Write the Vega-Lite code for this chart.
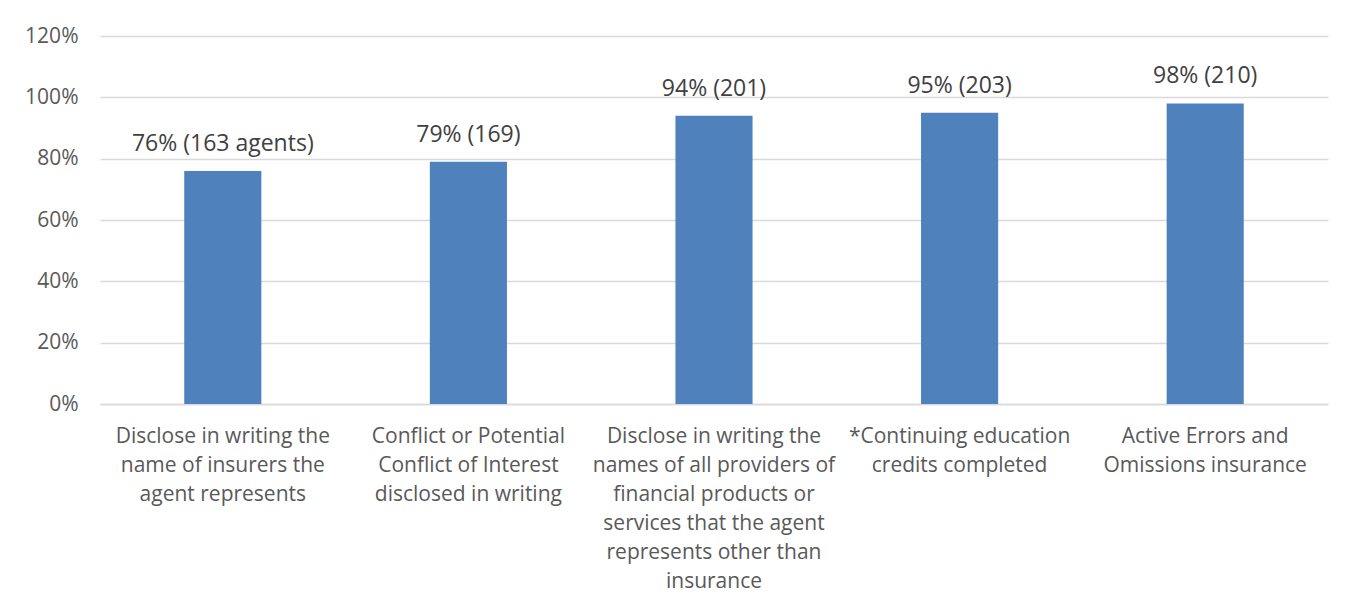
{
  "$schema": "https://vega.github.io/schema/vega-lite/v6.json",
  "width": 1228,
  "height": 368,
  "autosize": "none",
  "padding": {"left": 100, "top": 36, "right": 26, "bottom": 204},
  "background": "white",
  "config": {
    "view": {"stroke": null},
    "font": "Open Sans",
    "text": {"font": "Open Sans"}
  },
  "data": {
    "values": [
      {"category": "Disclose in writing the|name of insurers the|agent represents", "share": 0.76, "label": "76% (163 agents)"},
      {"category": "Conflict or Potential|Conflict of Interest|disclosed in writing", "share": 0.79, "label": "79% (169)"},
      {"category": "Disclose in writing the|names of all providers of|financial products or|services that the agent|represents other than|insurance", "share": 0.94, "label": "94% (201)"},
      {"category": "*Continuing education|credits completed", "share": 0.95, "label": "95% (203)"},
      {"category": "Active Errors and|Omissions insurance", "share": 0.98, "label": "98% (210)"}
    ]
  },
  "encoding": {
    "x": {
      "field": "category",
      "type": "nominal",
      "sort": null,
      "title": null,
      "scale": {"paddingInner": 0.686, "paddingOuter": 0.343},
      "axis": {
        "labelExpr": "split(datum.label, '|')",
        "labelAngle": 0,
        "labelFontSize": 21,
        "labelColor": "#595959",
        "labelLineHeight": 29,
        "labelPadding": 21,
        "labelLimit": 0,
        "ticks": false,
        "domainColor": "#d9d9d9",
        "domainWidth": 1.5
      }
    },
    "y": {
      "field": "share",
      "type": "quantitative",
      "title": null,
      "scale": {"domain": [0, 1.2]},
      "axis": {
        "values": [0, 0.2, 0.4, 0.6, 0.8, 1.0, 1.2],
        "format": ".0%",
        "labelFontSize": 21,
        "labelColor": "#595959",
        "labelPadding": 22,
        "ticks": false,
        "domain": false,
        "gridColor": "#d9d9d9",
        "gridWidth": 1.5
      }
    }
  },
  "layer": [
    {"mark": {"type": "bar", "color": "#4F81BD"}},
    {
      "mark": {"type": "text", "baseline": "bottom", "dy": -15, "fontSize": 23, "color": "#404040"},
      "encoding": {"text": {"field": "label"}}
    }
  ]
}
